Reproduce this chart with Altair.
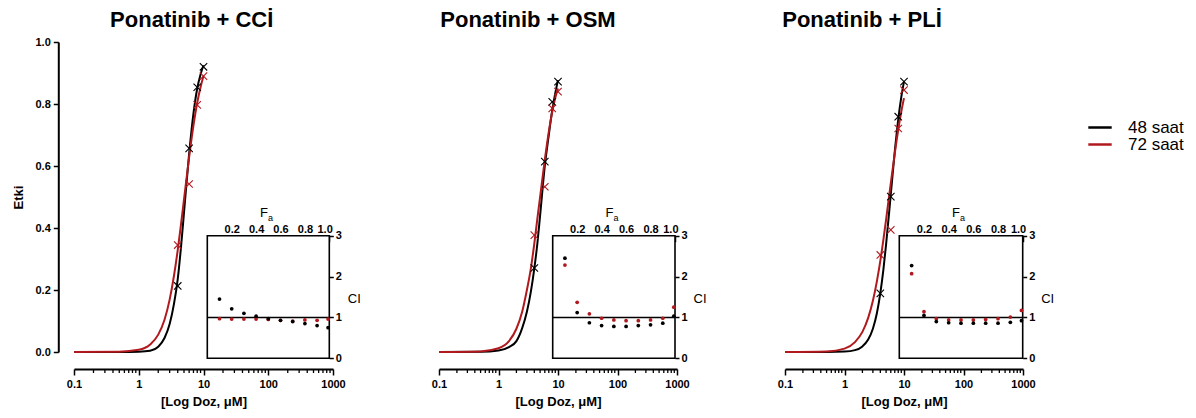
import altair as alt
import pandas as pd

FONT = "Liberation Sans"

# ---------------- data ----------------
series = ["48 saat", "72 saat"]
series_colors = ["#000000", "#b0191e"]

panel_titles = ["Ponatinib + CCİ", "Ponatinib + OSM", "Ponatinib + PLİ"]

dose_ticks = [0.1, 1, 10, 100, 1000]
minor_ticks = [0.2, 0.3, 0.4, 0.5, 0.6, 0.7, 0.8, 0.9,
               2, 3, 4, 5, 6, 7, 8, 9,
               20, 30, 40, 50, 60, 70, 80, 90,
               200, 300, 400, 500, 600, 700, 800, 900]
etki_ticks = [0.0, 0.2, 0.4, 0.6, 0.8, 1.0]
fa_ticks = [0.2, 0.4, 0.6, 0.8, 1.0]
ci_ticks = [0, 1, 2, 3]

# measured points (dose in uM, effect)
doses = [4, 6, 8, 10]
effect_48 = [[0.213, 0.657, 0.854, 0.920],
             [0.271, 0.614, 0.807, 0.872],
             [0.189, 0.501, 0.759, 0.872]]
effect_72 = [[0.345, 0.542, 0.797, 0.890],
             [0.377, 0.533, 0.786, 0.840],
             [0.313, 0.394, 0.721, 0.845]]

# fitted curves
curve_doses = [0.1, 0.5, 1, 1.5, 2, 2.5, 3, 3.5, 4, 4.5, 5, 6, 7, 8, 9, 10]
curve_48 = [
    [0, 0, 0.001, 0.004, 0.017, 0.045, 0.09, 0.155, 0.235, 0.34, 0.45, 0.64, 0.77, 0.85, 0.895, 0.925],
    [0, 0.0005, 0.005, 0.016, 0.035, 0.077, 0.13, 0.195, 0.27, 0.35, 0.44, 0.60, 0.70, 0.78, 0.835, 0.877],
    [0, 0.0001, 0.0014, 0.006, 0.018, 0.04, 0.075, 0.125, 0.19, 0.265, 0.347, 0.509, 0.647, 0.75, 0.822, 0.872],
]
curve_72 = [
    [0, 0.001, 0.007, 0.024, 0.056, 0.104, 0.169, 0.246, 0.329, 0.413, 0.492, 0.629, 0.731, 0.804, 0.854, 0.89],
    [0, 0.002, 0.012, 0.035, 0.075, 0.13, 0.2, 0.27, 0.35, 0.43, 0.5, 0.62, 0.71, 0.775, 0.82, 0.85],
    [0, 0.002, 0.011, 0.032, 0.065, 0.11, 0.165, 0.228, 0.294, 0.362, 0.427, 0.545, 0.641, 0.717, 0.775, 0.819],
]

# combination index inset
fa_values = [0.1, 0.2, 0.3, 0.4, 0.5, 0.6, 0.7, 0.8, 0.9, 0.99]
ci_48 = [[1.45, 1.21, 1.10, 1.03, 0.97, 0.93, 0.90, 0.85, 0.80, 0.75],
         [2.45, 1.12, 0.87, 0.80, 0.78, 0.78, 0.80, 0.82, 0.86, 1.03],
         [2.27, 1.05, 0.90, 0.87, 0.86, 0.86, 0.86, 0.86, 0.88, 0.92]]
ci_72 = [[0.97, 0.96, 0.96, 0.96, 0.95, 0.93, 0.91, 0.94, 0.93, 0.96],
         [2.28, 1.37, 1.09, 0.98, 0.94, 0.92, 0.92, 0.94, 0.98, 1.25],
         [2.07, 1.14, 0.97, 0.94, 0.94, 0.94, 0.95, 0.97, 1.01, 1.17]]

# ---------------- layout ----------------
W, H = 1110, 310
main_x_ranges = [[0, 259], [365, 603], [711, 949]]
inset_x_ranges = [[133.3, 255.3], [478.7, 601], [825.3, 948.7]]
inset_y_range = [316.3, 193.7]
X_OFF = 17
INSET_TICK = 6

XPATH = "M-1,-1L1,1M-1,1L1,-1"

color = alt.Color("series:N", scale=alt.Scale(domain=series, range=series_colors), legend=None)

lab = dict(labelFont=FONT, labelFontWeight="bold", labelFontSize=11, labelColor="black")
ttl = dict(titleFont=FONT, titleFontWeight="bold", titleFontSize=13, titleColor="black")

layers = []
for i in range(3):
    xs = alt.Scale(type="log", domain=[0.1, 1000], range=main_x_ranges[i])
    ys = alt.Scale(domain=[0, 1], range=[H, 0])
    xa = alt.Axis(orient="bottom", values=dose_ticks, format="~g", title="[Log Doz, μM]",
                  offset=X_OFF, domainWidth=2, domainColor="black", tickColor="black",
                  tickWidth=1.5, tickSize=6, labelPadding=3, titlePadding=6, grid=False,
                  labelFlush=False, labelOverlap=False, **lab, **ttl)
    if i == 0:
        ya = alt.Axis(orient="left", values=etki_ticks, format=".1f", title="Etki",
                      offset=15.7, domainWidth=2, domainColor="black", tickColor="black",
                      tickWidth=1.5, tickSize=5, labelPadding=3, titlePadding=10, grid=False,
                      labelOverlap=False, **lab, **ttl)
    else:
        ya = None

    n = len(curve_doses)
    curve_df = pd.DataFrame({"dose": curve_doses * 2,
                             "etki": curve_48[i] + curve_72[i],
                             "series": [series[0]] * n + [series[1]] * n})
    m = len(doses)
    pts_df = pd.DataFrame({"dose": doses * 2,
                           "etki": effect_48[i] + effect_72[i],
                           "series": [series[0]] * m + [series[1]] * m})
    minor_df = pd.DataFrame({"dose": minor_ticks})

    minor = alt.Chart(minor_df).mark_rule(color="black", strokeWidth=1.3).encode(
        x=alt.X("dose:Q", scale=xs, axis=xa),
        y=alt.value(H + X_OFF), y2=alt.value(H + X_OFF + 4))
    curves = alt.Chart(curve_df).mark_line(strokeWidth=2, interpolate="monotone").encode(
        x=alt.X("dose:Q", scale=xs, axis=xa),
        y=alt.Y("etki:Q", scale=ys, axis=ya),
        color=color)
    markers = alt.Chart(pts_df).mark_point(shape=XPATH, size=55, filled=False, strokeWidth=1.1,
                                           opacity=1).encode(
        x=alt.X("dose:Q", scale=xs, axis=xa),
        y=alt.Y("etki:Q", scale=ys, axis=ya),
        color=color)
    main = alt.layer(minor, curves, markers)

    # inset
    fxs = alt.Scale(domain=[0, 1], range=inset_x_ranges[i])
    cys = alt.Scale(domain=[0, 3], range=inset_y_range)
    fa_axis = alt.Axis(orient="top", values=fa_ticks, format=".1f", title=None,
                       offset=-(inset_y_range[1] + INSET_TICK), tickSize=INSET_TICK,
                       tickWidth=1.5, tickColor="black", domain=False, labelPadding=1,
                       grid=False, labelFlush=True, labelFlushOffset=3, labelOverlap=False, **lab)
    ci_axis = alt.Axis(orient="right", values=ci_ticks, format="d", title="CI",
                       offset=inset_x_ranges[i][1] - W, tickSize=4, tickWidth=1.5,
                       tickColor="black", domain=False, labelPadding=2, grid=False,
                       labelOverlap=False, titleAngle=0, titleX=24.5, titleY=256,
                       titleAlign="center", titleBaseline="middle",
                       titleFont=FONT, titleFontWeight="normal", titleFontSize=13,
                       titleColor="black", **lab)

    box_df = pd.DataFrame({"fa0": [0], "fa1": [1], "ci0": [0], "ci1": [3]})
    line_df = pd.DataFrame({"fa0": [0], "fa1": [1], "ci": [1]})
    k = len(fa_values)
    dots_df = pd.DataFrame({"fa": fa_values * 2,
                            "ci": ci_72[i] + ci_48[i],
                            "series": [series[1]] * k + [series[0]] * k})

    box = alt.Chart(box_df).mark_rect(fill="white", stroke="black", strokeWidth=1.6).encode(
        x=alt.X("fa0:Q", scale=fxs, axis=fa_axis), x2="fa1:Q",
        y=alt.Y("ci0:Q", scale=cys, axis=ci_axis), y2="ci1:Q")
    hline = alt.Chart(line_df).mark_rule(color="black", strokeWidth=1.5).encode(
        x=alt.X("fa0:Q", scale=fxs, axis=fa_axis), x2="fa1:Q",
        y=alt.Y("ci:Q", scale=cys, axis=ci_axis))
    dots = alt.Chart(dots_df).mark_circle(size=14, opacity=1).encode(
        x=alt.X("fa:Q", scale=fxs, axis=fa_axis),
        y=alt.Y("ci:Q", scale=cys, axis=ci_axis),
        color=color)
    f_x = inset_x_ranges[i][0] + 56.7
    f_text = alt.Chart(pd.DataFrame({"t": ["F"]})).mark_text(
        font=FONT, fontSize=13, color="black", align="center", baseline="middle").encode(
        x=alt.value(f_x), y=alt.value(170.5), text="t:N")
    a_text = alt.Chart(pd.DataFrame({"t": ["a"]})).mark_text(
        font=FONT, fontSize=9, color="black", align="center", baseline="middle").encode(
        x=alt.value(f_x + 6.5), y=alt.value(175.5), text="t:N")
    inset = alt.layer(box, hline, dots, f_text, a_text)

    title_x = [117.7, 454, 788][i]
    title = alt.Chart(pd.DataFrame({"t": [panel_titles[i]]})).mark_text(
        font=FONT, fontSize=22, fontWeight="bold", color="black", align="center",
        baseline="alphabetic").encode(x=alt.value(title_x), y=alt.value(-15), text="t:N")

    layers += [main, inset, title]

# legend
leg_df = pd.DataFrame({"series": series})
leg_y = alt.Y("series:N", scale=alt.Scale(type="point", domain=series, range=[85.5, 102.5], padding=0),
              axis=None)
leg_line = alt.Chart(leg_df).mark_rule(strokeWidth=2.5).encode(
    x=alt.value(1014.3), x2=alt.value(1037.7), y=leg_y, color=color)
leg_text = alt.Chart(leg_df).mark_text(font=FONT, fontSize=17, color="black", align="left",
                                       baseline="middle").encode(
    x=alt.value(1054), y=leg_y, text="series:N")
layers.append(alt.layer(leg_line, leg_text))

chart = alt.layer(*layers).resolve_scale(x="independent", y="independent").properties(
    width=W, height=H,
    padding={"left": 66, "top": 34, "right": 4, "bottom": 62},
    autosize=alt.AutoSizeParams(type="none"),
).configure(background="white").configure_view(strokeWidth=0, stroke=None)

chart.save("out.html", embed_options={"renderer": "svg", "actions": False})
